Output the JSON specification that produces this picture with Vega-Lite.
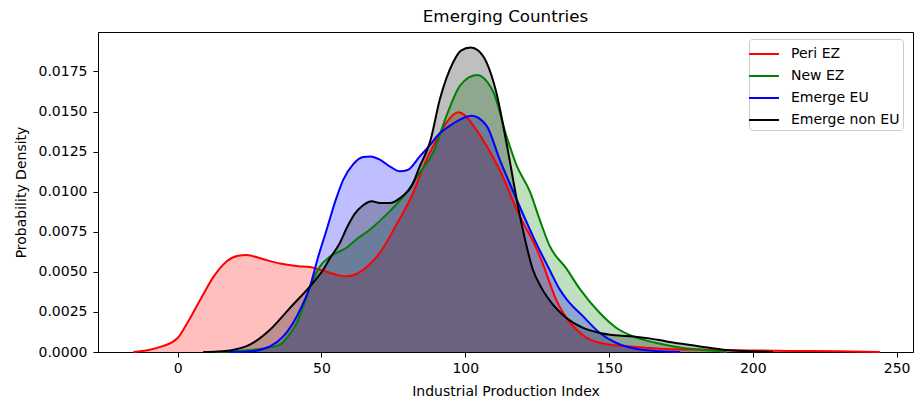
{
  "$schema": "https://vega.github.io/schema/vega-lite/v6.json",
  "width": 815,
  "height": 320,
  "autosize": {"type": "none"},
  "padding": {"left": 98, "top": 32, "right": 1, "bottom": 51},
  "title": {"text": "Emerging Countries", "font": "DejaVu Sans", "fontSize": 16.7, "fontWeight": "normal", "color": "black", "offset": 6},
  "config": {
    "view": {"stroke": "black", "strokeWidth": 1},
    "axis": {"grid": false, "domainColor": "black", "tickColor": "black", "labelColor": "black", "titleColor": "black", "labelFont": "DejaVu Sans", "titleFont": "DejaVu Sans", "labelFontSize": 14, "titleFontSize": 14, "titleFontWeight": "normal", "tickSize": 5, "domainWidth": 1, "tickWidth": 1},
    "legend": {"labelFont": "DejaVu Sans", "labelFontSize": 14, "labelColor": "black", "orient": "none", "legendX": 651, "legendY": 7, "symbolType": "M-1.36,0H1.36", "symbolSize": 484, "symbolStrokeWidth": 2, "labelOffset": 15, "rowPadding": 3, "padding": 3, "strokeColor": "#cccccc", "fillColor": "white", "cornerRadius": 3}
  },
  "data": {"values": [
    {"s":"Peri EZ","x":-15.4,"y":0},{"s":"Peri EZ","x":-10,"y":0.00012},{"s":"Peri EZ","x":-5,"y":0.00038},{"s":"Peri EZ","x":-2,"y":0.0006},{"s":"Peri EZ","x":0,"y":0.00087},{"s":"Peri EZ","x":3,"y":0.0017},{"s":"Peri EZ","x":8,"y":0.0033},{"s":"Peri EZ","x":12.5,"y":0.0047},{"s":"Peri EZ","x":17,"y":0.00565},{"s":"Peri EZ","x":21,"y":0.006},{"s":"Peri EZ","x":24,"y":0.00605},{"s":"Peri EZ","x":29.8,"y":0.00578},{"s":"Peri EZ","x":35.6,"y":0.00552},{"s":"Peri EZ","x":42,"y":0.00535},{"s":"Peri EZ","x":46,"y":0.0053},{"s":"Peri EZ","x":50,"y":0.0051},{"s":"Peri EZ","x":53,"y":0.00493},{"s":"Peri EZ","x":56,"y":0.00478},{"s":"Peri EZ","x":58.7,"y":0.00472},{"s":"Peri EZ","x":62,"y":0.00485},{"s":"Peri EZ","x":64.5,"y":0.00513},{"s":"Peri EZ","x":67.5,"y":0.0056},{"s":"Peri EZ","x":70.3,"y":0.00618},{"s":"Peri EZ","x":75.7,"y":0.00783},{"s":"Peri EZ","x":81.9,"y":0.00992},{"s":"Peri EZ","x":86.5,"y":0.012},{"s":"Peri EZ","x":88.9,"y":0.01285},{"s":"Peri EZ","x":93.5,"y":0.01432},{"s":"Peri EZ","x":97.5,"y":0.01495},{"s":"Peri EZ","x":100,"y":0.01475},{"s":"Peri EZ","x":102.8,"y":0.01412},{"s":"Peri EZ","x":107.4,"y":0.01287},{"s":"Peri EZ","x":112,"y":0.01135},{"s":"Peri EZ","x":117.9,"y":0.0089},{"s":"Peri EZ","x":120,"y":0.0081},{"s":"Peri EZ","x":123.6,"y":0.0069},{"s":"Peri EZ","x":127,"y":0.0055},{"s":"Peri EZ","x":129.4,"y":0.0043},{"s":"Peri EZ","x":131.5,"y":0.0033},{"s":"Peri EZ","x":134.1,"y":0.00243},{"s":"Peri EZ","x":136.5,"y":0.0018},{"s":"Peri EZ","x":138.7,"y":0.00139},{"s":"Peri EZ","x":143.4,"y":0.00077},{"s":"Peri EZ","x":150.3,"y":0.00046},{"s":"Peri EZ","x":159.6,"y":0.00031},{"s":"Peri EZ","x":170,"y":0.00019},{"s":"Peri EZ","x":181.6,"y":0.00015},{"s":"Peri EZ","x":199,"y":0.0001},{"s":"Peri EZ","x":212,"y":0.00007},{"s":"Peri EZ","x":230,"y":0.00004},{"s":"Peri EZ","x":244.2,"y":0},
    {"s":"New EZ","x":10,"y":0},{"s":"New EZ","x":20,"y":0.00005},{"s":"New EZ","x":27,"y":0.00015},{"s":"New EZ","x":31,"y":0.00026},{"s":"New EZ","x":35.6,"y":0.00046},{"s":"New EZ","x":38.5,"y":0.001},{"s":"New EZ","x":41.4,"y":0.0018},{"s":"New EZ","x":44,"y":0.003},{"s":"New EZ","x":46,"y":0.004},{"s":"New EZ","x":49.5,"y":0.00534},{"s":"New EZ","x":53,"y":0.00596},{"s":"New EZ","x":58.7,"y":0.0065},{"s":"New EZ","x":62,"y":0.007},{"s":"New EZ","x":66.8,"y":0.00763},{"s":"New EZ","x":73.7,"y":0.00877},{"s":"New EZ","x":79.5,"y":0.00992},{"s":"New EZ","x":84.1,"y":0.01117},{"s":"New EZ","x":88.9,"y":0.01245},{"s":"New EZ","x":93.5,"y":0.01474},{"s":"New EZ","x":98.2,"y":0.01661},{"s":"New EZ","x":104,"y":0.01728},{"s":"New EZ","x":109.8,"y":0.0162},{"s":"New EZ","x":114.3,"y":0.01349},{"s":"New EZ","x":117.9,"y":0.01162},{"s":"New EZ","x":122.5,"y":0.01},{"s":"New EZ","x":126,"y":0.0082},{"s":"New EZ","x":129.4,"y":0.0066},{"s":"New EZ","x":135.2,"y":0.0052},{"s":"New EZ","x":139.9,"y":0.00392},{"s":"New EZ","x":146.8,"y":0.00243},{"s":"New EZ","x":152.6,"y":0.0015},{"s":"New EZ","x":158.4,"y":0.00097},{"s":"New EZ","x":166.5,"y":0.00056},{"s":"New EZ","x":175.8,"y":0.00025},{"s":"New EZ","x":185,"y":0.0001},{"s":"New EZ","x":191,"y":0},
    {"s":"Emerge EU","x":18,"y":0},{"s":"Emerge EU","x":25,"y":0.00003},{"s":"Emerge EU","x":30,"y":0.0002},{"s":"Emerge EU","x":32.1,"y":0.00035},{"s":"Emerge EU","x":36.7,"y":0.00097},{"s":"Emerge EU","x":41.4,"y":0.00222},{"s":"Emerge EU","x":46,"y":0.00409},{"s":"Emerge EU","x":48.9,"y":0.00596},{"s":"Emerge EU","x":51.8,"y":0.00763},{"s":"Emerge EU","x":55,"y":0.0095},{"s":"Emerge EU","x":57.6,"y":0.01075},{"s":"Emerge EU","x":61,"y":0.0117},{"s":"Emerge EU","x":64.5,"y":0.01216},{"s":"Emerge EU","x":67,"y":0.0122},{"s":"Emerge EU","x":70.3,"y":0.012},{"s":"Emerge EU","x":74,"y":0.01155},{"s":"Emerge EU","x":77.3,"y":0.01127},{"s":"Emerge EU","x":80,"y":0.01135},{"s":"Emerge EU","x":84.2,"y":0.0122},{"s":"Emerge EU","x":87.7,"y":0.0129},{"s":"Emerge EU","x":90.1,"y":0.01345},{"s":"Emerge EU","x":95.8,"y":0.01425},{"s":"Emerge EU","x":102.2,"y":0.01474},{"s":"Emerge EU","x":107.4,"y":0.01412},{"s":"Emerge EU","x":112,"y":0.012},{"s":"Emerge EU","x":117.9,"y":0.0095},{"s":"Emerge EU","x":123.6,"y":0.0072},{"s":"Emerge EU","x":129.4,"y":0.0051},{"s":"Emerge EU","x":132.9,"y":0.00389},{"s":"Emerge EU","x":135.2,"y":0.0033},{"s":"Emerge EU","x":141,"y":0.00222},{"s":"Emerge EU","x":146.8,"y":0.00119},{"s":"Emerge EU","x":152.6,"y":0.00056},{"s":"Emerge EU","x":159.6,"y":0.00019},{"s":"Emerge EU","x":167.7,"y":0.00005},{"s":"Emerge EU","x":174.7,"y":0},
    {"s":"Emerge non EU","x":8.9,"y":0},{"s":"Emerge non EU","x":14,"y":0.00003},{"s":"Emerge non EU","x":18.2,"y":0.0001},{"s":"Emerge non EU","x":25.1,"y":0.00046},{"s":"Emerge non EU","x":32.1,"y":0.00139},{"s":"Emerge non EU","x":39,"y":0.00274},{"s":"Emerge non EU","x":46,"y":0.00409},{"s":"Emerge non EU","x":50.6,"y":0.00513},{"s":"Emerge non EU","x":53,"y":0.00586},{"s":"Emerge non EU","x":56.4,"y":0.0068},{"s":"Emerge non EU","x":58.7,"y":0.0077},{"s":"Emerge non EU","x":61.5,"y":0.0086},{"s":"Emerge non EU","x":64.5,"y":0.00915},{"s":"Emerge non EU","x":67.5,"y":0.0094},{"s":"Emerge non EU","x":70.3,"y":0.0093},{"s":"Emerge non EU","x":74,"y":0.0093},{"s":"Emerge non EU","x":77.3,"y":0.0096},{"s":"Emerge non EU","x":81.9,"y":0.01054},{"s":"Emerge non EU","x":84,"y":0.0115},{"s":"Emerge non EU","x":86.5,"y":0.0125},{"s":"Emerge non EU","x":87.7,"y":0.01308},{"s":"Emerge non EU","x":91.2,"y":0.01578},{"s":"Emerge non EU","x":95.8,"y":0.01807},{"s":"Emerge non EU","x":98.5,"y":0.0188},{"s":"Emerge non EU","x":101.9,"y":0.019},{"s":"Emerge non EU","x":104.5,"y":0.0188},{"s":"Emerge non EU","x":107.4,"y":0.01807},{"s":"Emerge non EU","x":110.8,"y":0.0162},{"s":"Emerge non EU","x":114.3,"y":0.01308},{"s":"Emerge non EU","x":119,"y":0.0085},{"s":"Emerge non EU","x":123.6,"y":0.0051},{"s":"Emerge non EU","x":126.5,"y":0.004},{"s":"Emerge non EU","x":129.4,"y":0.0032},{"s":"Emerge non EU","x":135.2,"y":0.00212},{"s":"Emerge non EU","x":141,"y":0.0015},{"s":"Emerge non EU","x":146.8,"y":0.00119},{"s":"Emerge non EU","x":152,"y":0.00105},{"s":"Emerge non EU","x":158.4,"y":0.00097},{"s":"Emerge non EU","x":164,"y":0.00085},{"s":"Emerge non EU","x":170,"y":0.00066},{"s":"Emerge non EU","x":175.8,"y":0.0005},{"s":"Emerge non EU","x":181.6,"y":0.00035},{"s":"Emerge non EU","x":189.7,"y":0.00014},{"s":"Emerge non EU","x":199,"y":0.00005},{"s":"Emerge non EU","x":207,"y":0}
  ]},
  "encoding": {
    "x": {"field": "x", "type": "quantitative", "title": "Industrial Production Index", "scale": {"domain": [-27.7, 255.7], "nice": false, "zero": false}, "axis": {"values": [0, 50, 100, 150, 200, 250], "labelPadding": 4, "titlePadding": 9}},
    "y": {"field": "y", "type": "quantitative", "title": "Probability Density", "stack": null, "scale": {"domain": [0, 0.01996], "nice": false}, "axis": {"values": [0, 0.0025, 0.005, 0.0075, 0.01, 0.0125, 0.015, 0.0175], "format": ".4f", "labelPadding": 6, "titlePadding": 10}}
  },
  "layer": [
    {"transform": [{"filter": "datum.s === 'Peri EZ'"}], "mark": {"type": "area", "interpolate": "monotone", "fillOpacity": 0.25, "fill": "#ff0000"}},
    {"transform": [{"filter": "datum.s === 'New EZ'"}], "mark": {"type": "area", "interpolate": "monotone", "fillOpacity": 0.25, "fill": "#008000"}},
    {"transform": [{"filter": "datum.s === 'Emerge EU'"}], "mark": {"type": "area", "interpolate": "monotone", "fillOpacity": 0.25, "fill": "#0000ff"}},
    {"transform": [{"filter": "datum.s === 'Emerge non EU'"}], "mark": {"type": "area", "interpolate": "monotone", "fillOpacity": 0.25, "fill": "#000000"}},
    {"mark": {"type": "line", "interpolate": "monotone", "strokeWidth": 2}, "encoding": {"color": {"field": "s", "type": "nominal", "sort": ["Peri EZ", "New EZ", "Emerge EU", "Emerge non EU"], "scale": {"domain": ["Peri EZ", "New EZ", "Emerge EU", "Emerge non EU"], "range": ["#ff0000", "#008000", "#0000ff", "#000000"]}, "legend": {"title": null}}}}
  ]
}
